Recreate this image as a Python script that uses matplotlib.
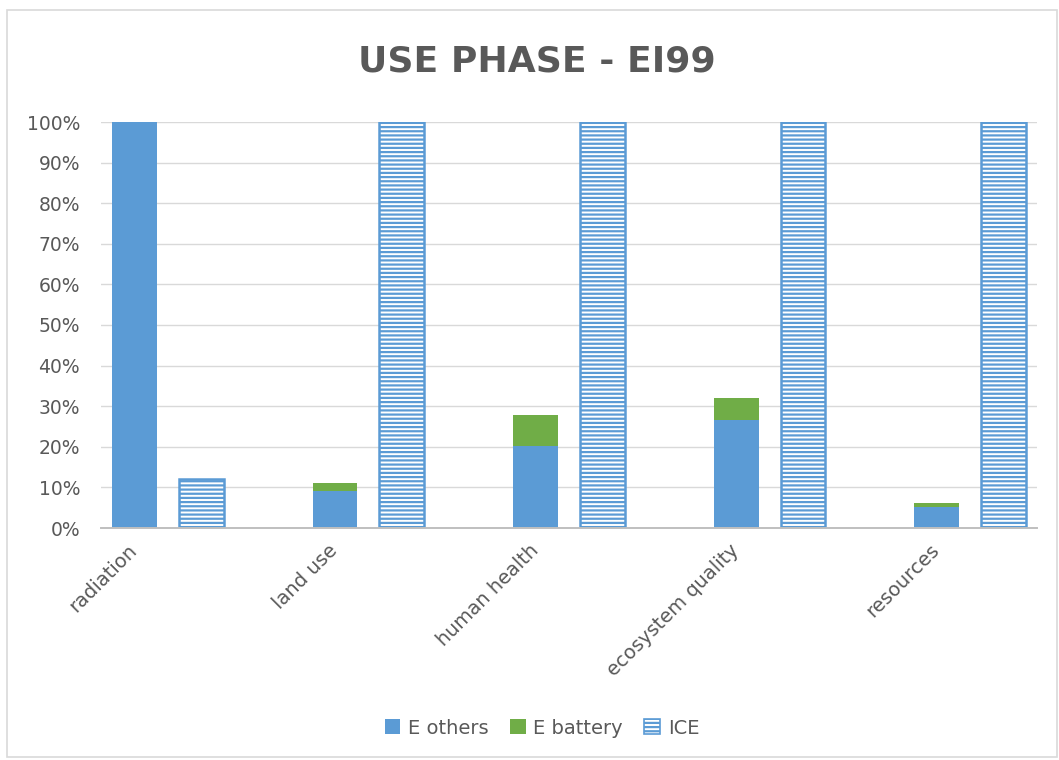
import matplotlib
matplotlib.use("Agg")
import matplotlib.pyplot as plt
from matplotlib.patches import Rectangle, Patch
import numpy as np

# Impact categories (EI99) and shares of the use phase
categories = ["radiation", "land use", "human health", "ecosystem quality", "resources"]
e_others = [100.0, 9.0, 20.3, 26.7, 5.2]
e_battery = [0.0, 2.0, 7.5, 5.3, 0.9]
ice = [12.0, 100.0, 100.0, 100.0, 100.0]
y_ticks = [0, 10, 20, 30, 40, 50, 60, 70, 80, 90, 100]

BLUE = "#5B9BD5"
GREEN = "#70AD47"
TEXT = "#595959"
GRID = "#D9D9D9"

plt.rcParams["font.family"] = ["DejaVu Sans"]
plt.rcParams["hatch.linewidth"] = 1.6
plt.rcParams["hatch.color"] = BLUE

fig = plt.figure(figsize=(10.59, 7.60), dpi=100)
ax = fig.add_axes([101 / 1059, 1 - 528 / 760, (1037 - 101) / 1059, (528 - 122) / 760])

# Each category gets three slots: electric (stacked), ICE, spacer
n = len(categories)
x_e = np.arange(n) * 3
x_ice = x_e + 1
width = 0.67

ax.bar(x_e, e_others, width, color=BLUE, edgecolor="none", zorder=3, label="E others")
ax.bar(x_e, e_battery, width, bottom=e_others, color=GREEN, edgecolor="none",
       zorder=3, label="E battery")
ax.bar(x_ice, ice, width, color="white", edgecolor=BLUE, hatch="----",
       linewidth=1.8, zorder=3, label="ICE")

ax.set_xlim(-0.5, 3 * n - 1.5)
ax.set_ylim(0, 100)
ax.set_yticks(y_ticks)
ax.set_yticklabels([f"{v}%" for v in y_ticks])
ax.yaxis.grid(True, color=GRID, linewidth=1.0, zorder=0)
ax.set_axisbelow(True)

ax.set_xticks(x_e)
ax.set_xticklabels(categories, rotation=45, ha="right", va="center",
                   rotation_mode="anchor")

for s in ["top", "right", "left"]:
    ax.spines[s].set_visible(False)
ax.spines["bottom"].set_color("#BFBFBF")
ax.spines["bottom"].set_linewidth(1.4)
ax.spines["bottom"].set_zorder(4)

ax.tick_params(axis="y", length=0, pad=15, labelsize=13.5, labelcolor=TEXT)
ax.tick_params(axis="x", length=0, pad=14, labelsize=14, labelcolor=TEXT)

fig.text(537 / 1059, 1 - 62 / 760, "USE PHASE - EI99", ha="center", va="center",
         fontsize=26, fontweight="bold", color=TEXT)

handles = [
    Patch(facecolor=BLUE, edgecolor="none", label="E others"),
    Patch(facecolor=GREEN, edgecolor="none", label="E battery"),
    Patch(facecolor="white", edgecolor=BLUE, hatch="----", linewidth=1.2, label="ICE"),
]
fig.legend(handles=handles, loc="center", bbox_to_anchor=(542 / 1059, 1 - 728 / 760),
           ncol=3, frameon=False, fontsize=14, labelcolor=TEXT, handlelength=0.8,
           handleheight=0.8, handletextpad=0.4, columnspacing=1.1)

# Chart-area border
fig.add_artist(Rectangle((7 / 1059, 3 / 760), (1057 - 7) / 1059, (750 - 3) / 760,
                         transform=fig.transFigure, fill=False, edgecolor=GRID,
                         linewidth=1.2))

fig.savefig("out.png", dpi=100)
